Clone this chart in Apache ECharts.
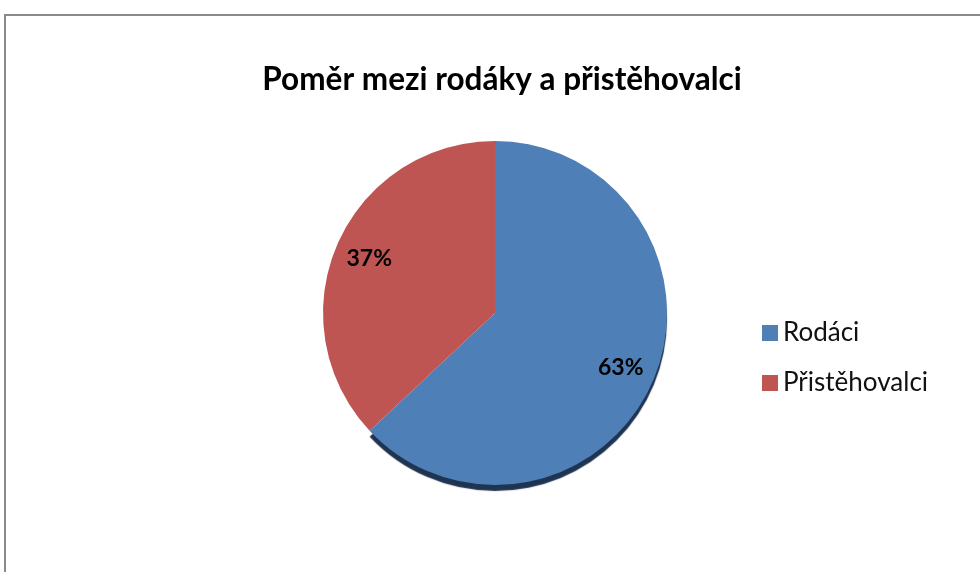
<!DOCTYPE html>
<html>
<head>
<meta charset="utf-8">
<script src="https://cdn.jsdelivr.net/npm/echarts@6/dist/echarts.min.js"></script>
<style>
    html, body { margin: 0; padding: 0; background: #fff; }
    #chart { width: 980px; height: 572px; }
</style>
</head>
<body>
<div id="chart"></div>
<script>
    // data
    var title = 'Poměr mezi rodáky a přistěhovalci';
    var categories = ['Rodáci', 'Přistěhovalci'];
    var values = [63, 37];
    var colors = ['#4F7FB7', '#BE5552'];

    var font = 'Lato, "Open Sans", sans-serif';
    var pieData = categories.map(function (name, i) {
        return {
            name: name,
            value: values[i],
            itemStyle: i === 0 ? {
                color: colors[i],
                shadowColor: '#1F3450',
                shadowBlur: 1,
                shadowOffsetY: 6
            } : {color: colors[i]}
        };
    });

    var myChart = echarts.init(document.getElementById('chart'));
    var option = {
        backgroundColor: '#fff',
        animation: false,
        graphic: [{
            type: 'rect',
            shape: {x: 5, y: 15, width: 1000, height: 600},
            style: {fill: 'none', stroke: '#8a8a8a', lineWidth: 2},
            z: -1
        }],
        title: {
            text: title,
            left: 497,
            textAlign: 'center',
            top: 59,
            textStyle: {fontFamily: font, fontSize: 31.5, fontWeight: 'bold', color: '#000'}
        },
        legend: {
            orient: 'vertical',
            left: 757,
            top: 315,
            itemWidth: 16,
            itemHeight: 16,
            itemGap: 24,
            icon: 'rect',
            data: categories,
            textStyle: {fontFamily: font, fontSize: 26, color: '#111'}
        },
        series: [
            {
                type: 'pie',
                center: [495, 313],
                radius: [0, 172],
                startAngle: 90,
                silent: true,
                label: {show: false},
                labelLine: {show: false},
                data: pieData
            },
            {
                // label carrier: ring whose mid radius puts the % at ~0.78 r
                type: 'pie',
                center: [495, 313],
                radius: [96, 172],
                startAngle: 90,
                silent: true,
                itemStyle: {color: 'transparent'},
                label: {
                    show: true,
                    position: 'inside',
                    formatter: '{d}%',
                    fontFamily: font,
                    fontSize: 23,
                    fontWeight: 'bold',
                    color: '#000'
                },
                labelLine: {show: false},
                legendHoverLink: false,
                data: categories.map(function (name, i) {
                    return {name: name + ' ', value: values[i]};
                })
            }
        ]
    };
    myChart.setOption(option);
</script>
</body>
</html>
